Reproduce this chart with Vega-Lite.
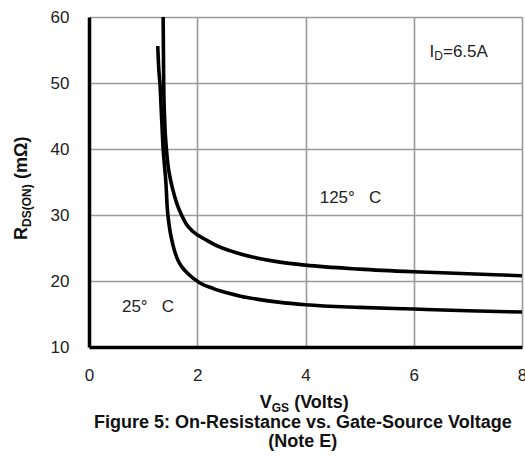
{
  "$schema": "https://vega.github.io/schema/vega-lite/v6.json",
  "width": 433,
  "height": 330,
  "autosize": "none",
  "padding": {"left": 89, "top": 17, "right": 3, "bottom": 110},
  "background": "white",
  "config": {
    "view": {"stroke": null},
    "font": "Liberation Sans",
    "axis": {"labelFont": "Liberation Sans", "labelFontSize": 17, "labelColor": "#222", "ticks": false, "title": null}
  },
  "datasets": {
    "curves": [
      {"series": "125C", "v": 1.37, "r": 60},
      {"series": "125C", "v": 1.38, "r": 50},
      {"series": "125C", "v": 1.40, "r": 44},
      {"series": "125C", "v": 1.43, "r": 40},
      {"series": "125C", "v": 1.46, "r": 37.5},
      {"series": "125C", "v": 1.49, "r": 36},
      {"series": "125C", "v": 1.55, "r": 33.8},
      {"series": "125C", "v": 1.62, "r": 31.8},
      {"series": "125C", "v": 1.71, "r": 30},
      {"series": "125C", "v": 1.80, "r": 28.6},
      {"series": "125C", "v": 1.92, "r": 27.5},
      {"series": "125C", "v": 2.17, "r": 26.2},
      {"series": "125C", "v": 2.4, "r": 25.2},
      {"series": "125C", "v": 2.6, "r": 24.6},
      {"series": "125C", "v": 2.8, "r": 24.1},
      {"series": "125C", "v": 3.1, "r": 23.5},
      {"series": "125C", "v": 3.5, "r": 22.9},
      {"series": "125C", "v": 4, "r": 22.4},
      {"series": "125C", "v": 5, "r": 21.8},
      {"series": "125C", "v": 6, "r": 21.4},
      {"series": "125C", "v": 7, "r": 21.1},
      {"series": "125C", "v": 8, "r": 20.8},
      {"series": "25C", "v": 1.27, "r": 55.6},
      {"series": "25C", "v": 1.29, "r": 52},
      {"series": "25C", "v": 1.31, "r": 50},
      {"series": "25C", "v": 1.34, "r": 45},
      {"series": "25C", "v": 1.37, "r": 40},
      {"series": "25C", "v": 1.40, "r": 37},
      {"series": "25C", "v": 1.42, "r": 35},
      {"series": "25C", "v": 1.445, "r": 31.2},
      {"series": "25C", "v": 1.48, "r": 28.5},
      {"series": "25C", "v": 1.53, "r": 26.2},
      {"series": "25C", "v": 1.58, "r": 24.6},
      {"series": "25C", "v": 1.64, "r": 23.2},
      {"series": "25C", "v": 1.72, "r": 22.1},
      {"series": "25C", "v": 1.83, "r": 21.1},
      {"series": "25C", "v": 2.05, "r": 19.7},
      {"series": "25C", "v": 2.3, "r": 18.85},
      {"series": "25C", "v": 2.6, "r": 18.1},
      {"series": "25C", "v": 2.8, "r": 17.7},
      {"series": "25C", "v": 3.1, "r": 17.25},
      {"series": "25C", "v": 3.5, "r": 16.8},
      {"series": "25C", "v": 4, "r": 16.4},
      {"series": "25C", "v": 5, "r": 16.0},
      {"series": "25C", "v": 6, "r": 15.75},
      {"series": "25C", "v": 7, "r": 15.5},
      {"series": "25C", "v": 8, "r": 15.3}
    ],
    "labels": [
      {"kind": "note", "text": "125°\u00a0\u00a0\u00a0C", "x": 4.262, "y": 31.82},
      {"kind": "note", "text": "25°\u00a0\u00a0\u00a0C", "x": 0.609, "y": 15.3},
      {"kind": "note", "text": "I", "x": 6.29, "y": 53.94},
      {"kind": "sub", "text": "D", "x": 6.377, "y": 53.48},
      {"kind": "note", "text": "=6.5A", "x": 6.54, "y": 53.94},
      {"kind": "title", "text": "V", "x": 3.155, "y": 0.75},
      {"kind": "titlesub", "text": "GS", "x": 3.376, "y": 0.2},
      {"kind": "title", "text": "(Volts)", "x": 3.79, "y": 0.75},
      {"kind": "titlec", "text": "Figure 5: On-Resistance vs. Gate-Source Voltage", "x": 3.95, "y": -2.27},
      {"kind": "titlec", "text": "(Note E)", "x": 3.95, "y": -5.15},
      {"kind": "ytitle", "text": "R", "x": -1.144, "y": 26.21},
      {"kind": "ytitlesub", "text": "DS(ON)", "x": -1.08, "y": 28.18},
      {"kind": "ytitle", "text": "(mΩ)", "x": -1.144, "y": 35.45}
    ]
  },
  "encoding": {
    "x": {"field": "v", "type": "quantitative", "scale": {"domain": [0, 8], "nice": false, "zero": false}},
    "y": {"field": "r", "type": "quantitative", "scale": {"domain": [10, 60], "nice": false, "zero": false}}
  },
  "layer": [
    {
      "data": {"name": "curves"},
      "mark": {"type": "line", "interpolate": "monotone", "strokeWidth": 3.6, "color": "black", "clip": true},
      "encoding": {
        "x": {"field": "v", "type": "quantitative", "scale": {"domain": [0, 8], "nice": false, "zero": false},
          "axis": {"values": [0, 2, 4, 6, 8], "grid": true, "gridColor": "#9a9a9a", "gridWidth": 1.6, "domainColor": "black", "domainWidth": 3.5, "labelPadding": 20, "labelFlush": false}},
        "y": {"field": "r", "type": "quantitative", "scale": {"domain": [10, 60], "nice": false, "zero": false},
          "axis": {"values": [10, 20, 30, 40, 50, 60], "grid": true, "gridColor": "#9a9a9a", "gridWidth": 1.6, "domainColor": "black", "domainWidth": 3.5, "labelPadding": 20, "labelFlush": false}},
        "detail": {"field": "series"}
      }
    },
    {
      "data": {"name": "labels"},
      "transform": [{"filter": "datum.kind == 'note'"}],
      "mark": {"type": "text", "align": "left", "baseline": "alphabetic", "fontSize": 17, "color": "#222"},
      "encoding": {"x": {"field": "x", "type": "quantitative"}, "y": {"field": "y", "type": "quantitative"}, "text": {"field": "text"}}
    },
    {
      "data": {"name": "labels"},
      "transform": [{"filter": "datum.kind == 'sub'"}],
      "mark": {"type": "text", "align": "left", "baseline": "alphabetic", "fontSize": 12, "color": "#222"},
      "encoding": {"x": {"field": "x", "type": "quantitative"}, "y": {"field": "y", "type": "quantitative"}, "text": {"field": "text"}}
    },
    {
      "data": {"name": "labels"},
      "transform": [{"filter": "datum.kind == 'title'"}],
      "mark": {"type": "text", "align": "left", "baseline": "alphabetic", "fontSize": 18, "fontWeight": "bold", "color": "#111"},
      "encoding": {"x": {"field": "x", "type": "quantitative"}, "y": {"field": "y", "type": "quantitative"}, "text": {"field": "text"}}
    },
    {
      "data": {"name": "labels"},
      "transform": [{"filter": "datum.kind == 'titlesub'"}],
      "mark": {"type": "text", "align": "left", "baseline": "alphabetic", "fontSize": 12, "fontWeight": "bold", "color": "#111"},
      "encoding": {"x": {"field": "x", "type": "quantitative"}, "y": {"field": "y", "type": "quantitative"}, "text": {"field": "text"}}
    },
    {
      "data": {"name": "labels"},
      "transform": [{"filter": "datum.kind == 'titlec'"}],
      "mark": {"type": "text", "align": "center", "baseline": "alphabetic", "fontSize": 18, "fontWeight": "bold", "color": "#111"},
      "encoding": {"x": {"field": "x", "type": "quantitative"}, "y": {"field": "y", "type": "quantitative"}, "text": {"field": "text"}}
    },
    {
      "data": {"name": "labels"},
      "transform": [{"filter": "datum.kind == 'ytitle'"}],
      "mark": {"type": "text", "align": "left", "baseline": "alphabetic", "angle": 270, "fontSize": 18, "fontWeight": "bold", "color": "#111"},
      "encoding": {"x": {"field": "x", "type": "quantitative"}, "y": {"field": "y", "type": "quantitative"}, "text": {"field": "text"}}
    },
    {
      "data": {"name": "labels"},
      "transform": [{"filter": "datum.kind == 'ytitlesub'"}],
      "mark": {"type": "text", "align": "left", "baseline": "alphabetic", "angle": 270, "fontSize": 12, "fontWeight": "bold", "color": "#111"},
      "encoding": {"x": {"field": "x", "type": "quantitative"}, "y": {"field": "y", "type": "quantitative"}, "text": {"field": "text"}}
    }
  ]
}
